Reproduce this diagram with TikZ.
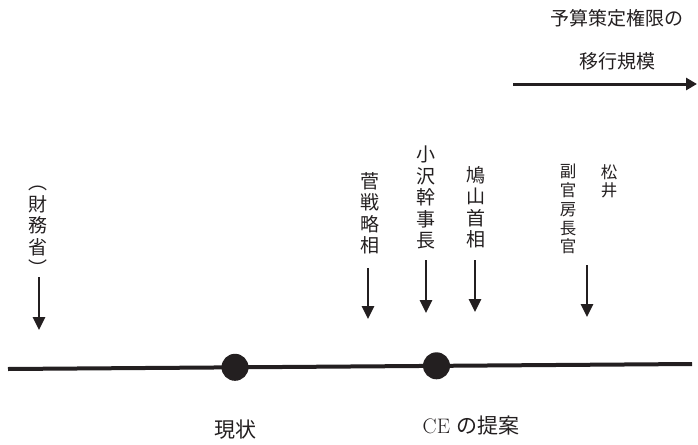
\documentclass[tikz,border=0pt]{standalone}
\usepackage{fontspec}
\newfontfamily\jp{Noto Sans CJK JP}
\usetikzlibrary{arrows.meta}
\definecolor{ink}{HTML}{231F20}
\begin{document}
\begin{tikzpicture}[x=1pt,y=-1pt,
  vlabel/.style={font=\jp\fontsize{19}{21.5}\selectfont, align=center, inner sep=0pt, anchor=north, text=ink},
  slabel/.style={font=\jp\fontsize{16.5}{18.8}\selectfont, align=center, inner sep=0pt, anchor=north, text=ink},
  hlabel/.style={font=\jp\fontsize{19}{21}\selectfont, inner sep=0pt, text=ink},
  blabel/.style={font=\fontsize{21}{24}\selectfont, inner sep=0pt, text=ink},
  downarrow/.style={draw=ink, line width=2.8pt, -{Triangle[length=13pt,width=12pt]}},
  rightarrow/.style={draw=ink, line width=3pt, -{Triangle[length=11pt,width=12pt]}},
  timeline/.style={draw=ink, line width=4pt},
  dot/.style={circle, fill=ink, minimum size=27pt, inner sep=0pt}
]
\useasboundingbox (0,0) rectangle (698,444);

% top label and arrow
\node[hlabel] (t1) at (617,18) {予算策定権限の};
\node[hlabel] (t2) at (617,61) {移行規模};
\coordinate (ra1) at (513,84);
\coordinate (ra2) at (697,84);
\draw[rightarrow] (ra1) -- (ra2);

% vertical labels
\node[vlabel] (zaimu) at (38,186) {︵\\財\\務\\省\\︶};
\node[vlabel] (kan) at (370,172) {菅\\戦\\略\\相};
\node[vlabel] (ozawa) at (426,146) {小\\沢\\幹\\事\\長};
\node[vlabel] (hato) at (476,166) {鳩\\山\\首\\相};
\node[slabel] (fuku) at (568,164) {副\\官\\房\\長\\官};
\node[slabel] (matsui) at (609,164) {松\\井};

% down arrows
\coordinate (a1s) at (39,277);  \coordinate (a1e) at (39,330);
\coordinate (a2s) at (368,268); \coordinate (a2e) at (368,319);
\coordinate (a3s) at (426,260); \coordinate (a3e) at (426,313);
\coordinate (a4s) at (475,260); \coordinate (a4e) at (475,312);
\coordinate (a5s) at (587,265); \coordinate (a5e) at (587,317);
\draw[downarrow] (a1s) -- (a1e);
\draw[downarrow] (a2s) -- (a2e);
\draw[downarrow] (a3s) -- (a3e);
\draw[downarrow] (a4s) -- (a4e);
\draw[downarrow] (a5s) -- (a5e);

% timeline
\coordinate (L) at (8,369);
\coordinate (R) at (692,364);
\draw[timeline] (L) -- (R);
\node[dot] (d1) at (235,367.3) {};
\node[dot] (d2) at (436.5,365.8) {};

% bottom labels
\node[blabel] (genjo) at (235,430) {\jp 現状};
\node[blabel] (ce) at (471,426) {CE {\jp の提案}};
\end{tikzpicture}
\end{document}
